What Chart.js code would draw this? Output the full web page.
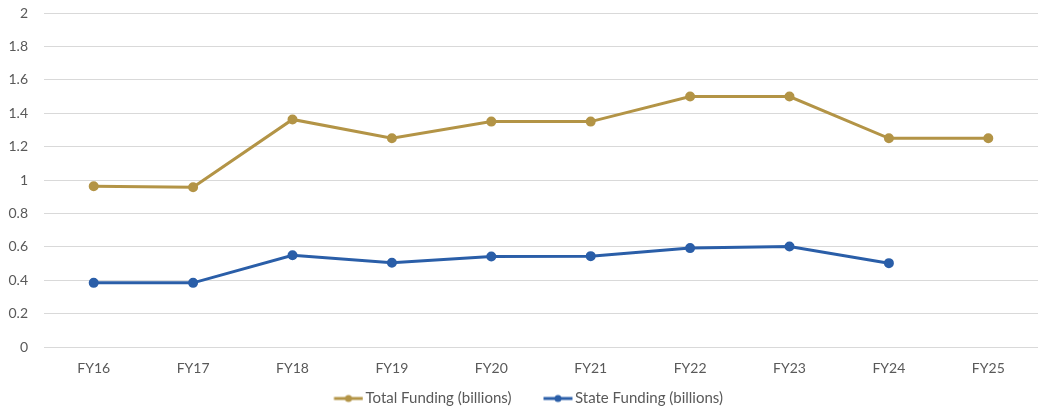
<!DOCTYPE html>
<html>
<head>
<meta charset="utf-8">
<script src="https://cdn.jsdelivr.net/npm/chart.js@4"></script>
<style>
  html, body { margin: 0; padding: 0; background: #fff; }
  #wrap { width: 1038px; height: 411px; }
</style>
</head>
<body>
<div id="wrap"><canvas id="chart"></canvas></div>
<script>
var years = ['FY16', 'FY17', 'FY18', 'FY19', 'FY20', 'FY21', 'FY22', 'FY23', 'FY24', 'FY25'];
var totalFunding = [0.963, 0.957, 1.363, 1.25, 1.35, 1.35, 1.5, 1.5, 1.25, 1.25];
var stateFunding = [0.385, 0.385, 0.55, 0.505, 0.543, 0.545, 0.593, 0.603, 0.503, null];
var seriesNames = ['Total Funding (billions)', 'State Funding (billions)'];

var GOLD = '#B39446';
var BLUE = '#2A5EA8';

// line-with-dot legend marker, drawn on the right part of a wider box
function legendMarker(color) {
   var c = document.createElement('canvas');
   c.width = 66;
   c.height = 10;
   var g = c.getContext('2d');
   g.strokeStyle = color;
   g.lineWidth = 3;
   g.beginPath();
   g.moveTo(36.5, 5);
   g.lineTo(65.5, 5);
   g.stroke();
   g.fillStyle = color;
   g.beginPath();
   g.arc(51, 5, 3.5, 0, Math.PI * 2);
   g.fill();
   return c;
}

Chart.defaults.font.family = 'Lato, "Noto Sans", sans-serif';
Chart.defaults.font.size = 14;
Chart.defaults.color = '#595959';

var ctx = document.getElementById('chart').getContext('2d');
var chart = new Chart(ctx, {
   type: 'line',
   data: {
      labels: years,
      datasets: [{
         label: seriesNames[0],
         data: totalFunding,
         borderColor: GOLD,
         backgroundColor: GOLD,
         borderWidth: 3,
         pointRadius: 3.5,
         pointHoverRadius: 3.5,
         tension: 0
      }, {
         label: seriesNames[1],
         data: stateFunding,
         borderColor: BLUE,
         backgroundColor: BLUE,
         borderWidth: 3,
         pointRadius: 3.5,
         pointHoverRadius: 3.5,
         tension: 0
      }]
   },
   options: {
      responsive: true,
      maintainAspectRatio: false,
      animation: false,
      layout: {
         autoPadding: false,
         padding: { left: -15, right: -3, top: 13, bottom: -5 }
      },
      scales: {
         x: {
            offset: true,
            grid: { display: false, drawTicks: false },
            border: { display: false },
            ticks: { padding: 13 },
            afterFit: function (s) {
               s.paddingLeft = -20;
               s.paddingRight = -20;
            }
         },
         y: {
            min: 0,
            max: 2,
            ticks: {
               stepSize: 0.2,
               padding: 16,
               callback: function (v) { return String(Math.round(v * 10) / 10); }
            },
            grid: { color: '#D9D9D9', lineWidth: 1, drawTicks: false },
            border: { display: false },
            afterFit: function (s) {
               s.width = 59;
               s.paddingTop = 0;
               s.paddingBottom = 0;
               s.paddingLeft = -20;
               s.paddingRight = -20;
            }
         }
      },
      plugins: {
         legend: {
            position: 'bottom',
            labels: {
               usePointStyle: true,
               pointStyleWidth: 55,
               padding: 1,
               font: { size: 15 },
               generateLabels: function (chart) {
                  return chart.data.datasets.map(function (ds, i) {
                     return {
                        text: ds.label,
                        pointStyle: legendMarker(ds.borderColor),
                        fillStyle: ds.borderColor,
                        strokeStyle: ds.borderColor,
                        lineWidth: 0,
                        hidden: false,
                        datasetIndex: i,
                        fontColor: '#595959'
                     };
                  });
               }
            }
         },
         tooltip: { enabled: false }
      }
   }
});
</script>
</body>
</html>
